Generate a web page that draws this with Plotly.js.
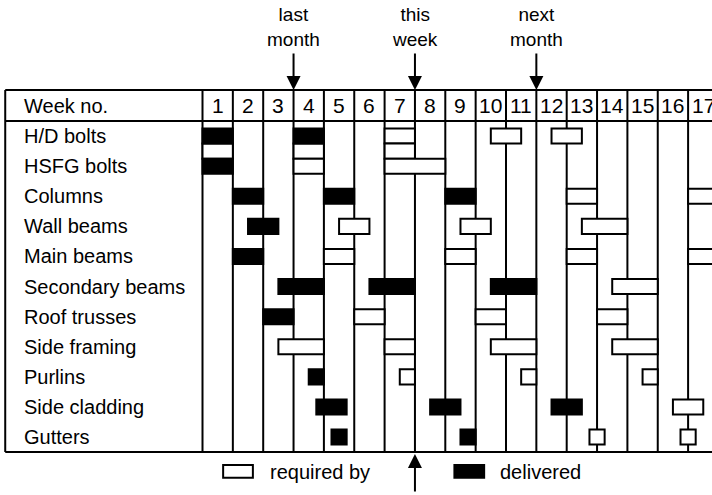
<!DOCTYPE html>
<html>
<head>
<meta charset="utf-8">
<script src="https://cdn.plot.ly/plotly-3.0.1.min.js"></script>
<style>
  html, body { margin: 0; padding: 0; background: #fff; }
  #schedule { width: 712px; height: 495px; }
</style>
</head>
<body>
<div id="schedule"></div>
<script>
// one row per material, rows sit on the odd half-row slots (1, 3, 5 ...)
let materials = ["H/D bolts", "HSFG bolts", "Columns", "Wall beams", "Main beams",
  "Secondary beams", "Roof trusses", "Side framing", "Purlins", "Side cladding", "Gutters"];
let weekNos = [1, 2, 3, 4, 5, 6, 7, 8, 9, 10, 11, 12, 13, 14, 15, 16, 17];

// delivered (black) bars: weeks elapsed at start / end, half-row slot
let delStart = [0, 3, 0, 1, 4, 8, 1.5, 1, 2.5, 5.5, 9.5, 2, 3.5, 3.75, 7.5, 11.5, 4.25, 8.5];
let delEnd   = [1, 4, 1, 2, 5, 9, 2.5, 2, 4, 7, 11, 3, 4, 4.75, 8.5, 12.5, 4.75, 9];
let delSlot  = [1, 1, 3, 5, 5, 5, 7, 9, 11, 11, 11, 13, 17, 19, 19, 19, 21, 21];

// required by (open) bars
let reqStart = [0, 3, 3, 6, 6, 6, 9.5, 11.5, 12, 16, 4.5, 8.5, 12.5, 4, 8, 12, 16, 13.5,
  5, 9, 13, 2.5, 6, 9.5, 13.5, 6.5, 10.5, 14.5, 15.5, 12.75, 15.75];
let reqEnd   = [1, 4, 4, 7, 7, 8, 10.5, 12.5, 13, 17, 5.5, 9.5, 14, 5, 9, 13, 17, 15,
  6, 10, 14, 4, 7, 11, 15, 7, 11, 15, 16.5, 13.25, 16.25];
let reqSlot  = [2, 2, 3, 1, 2, 3, 1, 1, 5, 5, 7, 7, 7, 9, 9, 9, 9, 11,
  13, 13, 13, 15, 15, 15, 15, 17, 17, 17, 19, 21, 21];

let markerText = ["last<br>month", "this<br>week", "next<br>month"];
let markerWeek = [3, 7, 11];
let thisWeek = 7;

let legendText = ["required by", "delivered"];

// frame, in axis units (weeks across, half-rows down)
let frameLeft = -6.5;
let headerTop = -2.06;
let gridBottom = 22;
let font = {family: "Liberation Sans, Arial, sans-serif", size: 20, color: "black"};

let required = {
    type: "bar",
    orientation: "h",
    base: reqStart,
    x: reqEnd.map((e, i) => e - reqStart[i]),
    y: reqSlot,
    width: 1,
    marker: {color: "white", line: {color: "black", width: 2}},
    hoverinfo: "skip"
};
let delivered = {
    type: "bar",
    orientation: "h",
    base: delStart,
    x: delEnd.map((e, i) => e - delStart[i]),
    y: delSlot,
    width: 1,
    marker: {color: "black", line: {color: "black", width: 2}},
    hoverinfo: "skip"
};

let shapes = [];
// week column lines
for (let w = 0; w <= weekNos.length; w++) {
    shapes.push({type: "line", xref: "x", yref: "y", x0: w, x1: w, y0: headerTop, y1: gridBottom,
        line: {color: "black", width: 2}, layer: "below"});
}
[headerTop, 0, gridBottom].forEach(y => {
    shapes.push({type: "line", xref: "x", yref: "y", x0: frameLeft, x1: 18, y0: y, y1: y,
        line: {color: "black", width: 2}, layer: "below"});
});
shapes.push({type: "line", xref: "x", yref: "y", x0: frameLeft, x1: frameLeft, y0: headerTop, y1: gridBottom,
    line: {color: "black", width: 2}, layer: "below"});

// legend keys
shapes.push({type: "rect", xref: "x", yref: "y", x0: 0.68, x1: 1.66, y0: 22.85, y1: 23.7,
    fillcolor: "white", line: {color: "black", width: 2}});
shapes.push({type: "rect", xref: "x", yref: "y", x0: 8.3, x1: 9.28, y0: 22.85, y1: 23.7,
    fillcolor: "black", line: {color: "black", width: 2}});

let annotations = [];
annotations.push({x: -5.96, y: -1.03, xref: "x", yref: "y", text: "Week no.", showarrow: false,
    xanchor: "left", yanchor: "middle", font: font});
materials.forEach((m, i) => {
    annotations.push({x: -5.95, y: 2 * i + 1, xref: "x", yref: "y", text: m, showarrow: false,
        xanchor: "left", yanchor: "middle", font: font});
});
weekNos.forEach((n, i) => {
    annotations.push({x: i + 0.5, y: -1.03, xref: "x", yref: "y", text: String(n), showarrow: false,
        xanchor: "center", yanchor: "middle", font: {family: font.family, size: 21, color: "black"}});
});
markerText.forEach((t, i) => {
    annotations.push({x: markerWeek[i], y: -6.25, xref: "x", yref: "y", text: t, showarrow: false,
        xanchor: "center", yanchor: "middle", font: {family: font.family, size: 19, color: "black"}});
    annotations.push({x: markerWeek[i], y: headerTop, xref: "x", yref: "y", text: "", showarrow: true,
        ax: 0, ay: -38, arrowhead: 2, arrowsize: 1.4, arrowwidth: 2, arrowcolor: "black"});
});
annotations.push({x: thisWeek, y: 22.12, xref: "x", yref: "y", text: "", showarrow: true,
    ax: 0, ay: 39, arrowhead: 2, arrowsize: 1.4, arrowwidth: 2, arrowcolor: "black"});
annotations.push({x: 2.16, y: 23.3, xref: "x", yref: "y", text: legendText[0], showarrow: false,
    xanchor: "left", yanchor: "middle", font: font});
annotations.push({x: 9.74, y: 23.3, xref: "x", yref: "y", text: legendText[1], showarrow: false,
    xanchor: "left", yanchor: "middle", font: font});

let layout = {
    width: 712,
    height: 495,
    margin: {l: 0, r: 0, t: 0, b: 0},
    showlegend: false,
    barmode: "overlay",
    paper_bgcolor: "white",
    plot_bgcolor: "white",
    xaxis: {range: [-6.6722, 16.7875], visible: false, fixedrange: true},
    yaxis: {range: [24.8505, -8.0399], visible: false, fixedrange: true},
    shapes: shapes,
    annotations: annotations
};

Plotly.newPlot("schedule", [required, delivered], layout, {staticPlot: true, displayModeBar: false});
</script>
</body>
</html>
